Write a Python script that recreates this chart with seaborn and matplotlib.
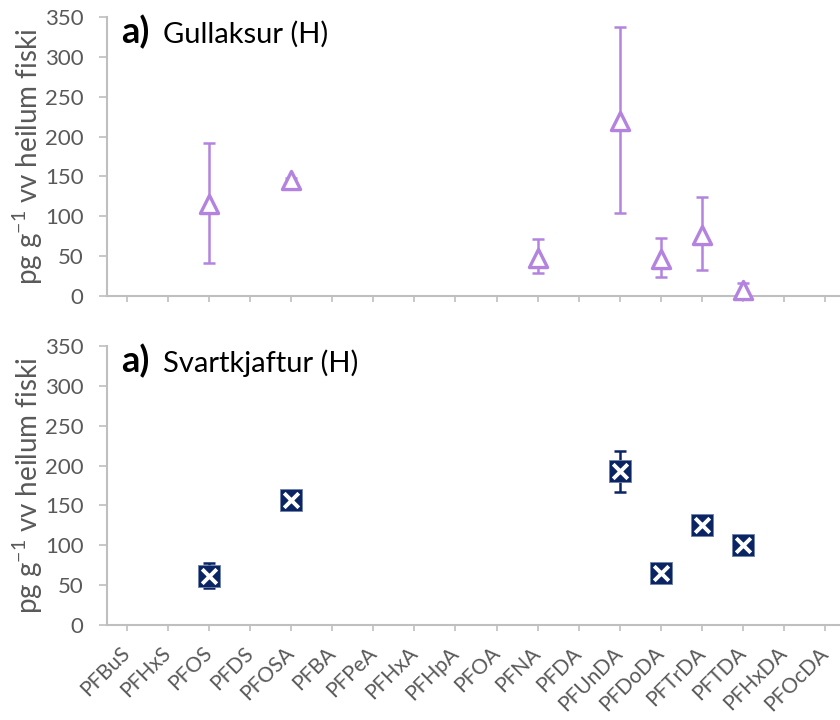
import matplotlib
matplotlib.use("Agg")
import matplotlib.pyplot as plt
import seaborn as sns
import numpy as np
import pandas as pd

categories = ["PFBuS", "PFHxS", "PFOS", "PFDS", "PFOSA", "PFBA", "PFPeA", "PFHxA",
              "PFHpA", "PFOA", "PFNA", "PFDA", "PFUnDA", "PFDoDA", "PFTrDA", "PFTDA",
              "PFHxDA", "PFOcDA"]

# Panel 1: Gullaksur (H)
top_names = ["PFOS", "PFOSA", "PFNA", "PFUnDA", "PFDoDA", "PFTrDA", "PFTDA"]
top_values = [116, 145, 48, 219, 47, 76, 8]
top_low = [42, 142, 29, 104, 24, 33, 3]
top_high = [192, 148, 72, 338, 73, 124, 16]

# Panel 2: Svartkjaftur (H)
bot_names = ["PFOS", "PFOSA", "PFUnDA", "PFDoDA", "PFTrDA", "PFTDA"]
bot_values = [62, 157, 193, 65, 126, 100]
bot_low = [46, 157, 167, 65, 126, 100]
bot_high = [78, 157, 218, 65, 126, 100]

yticks = [0, 50, 100, 150, 200, 250, 300, 350]
ylabel = "pg g$^{-1}$ vv heilum fiski"
titles = ["Gullaksur (H)", "Svartkjaftur (H)"]

sns.set_theme(style="white")
plt.rcParams["font.family"] = ["Lato", "DejaVu Sans"]
plt.rcParams["mathtext.default"] = "regular"

TXT = "#595959"
SPINE = "#BFBFBF"
PURPLE = "#B383DF"
NAVY = "#0B2463"

fig = plt.figure(figsize=(8.4, 7.2), dpi=100)
left = 106.5 / 840
width = (845.5 - 106.5) / 840
h = 279 / 720
ax1 = fig.add_axes([left, 1 - 296 / 720, width, h])
ax2 = fig.add_axes([left, 1 - 625 / 720, width, h])

def style(ax, show_labels):
    ax.set_xlim(-0.5, len(categories) - 0.5)
    ax.set_ylim(0, 350)
    ax.set_yticks(yticks)
    ax.set_yticklabels([str(v) for v in yticks], fontsize=16, color=TXT)
    ax.set_xticks(range(len(categories)))
    if show_labels:
        ax.set_xticklabels(categories, rotation=45, ha="right", va="center",
                           rotation_mode="anchor", fontsize=15, color=TXT)
    else:
        ax.set_xticklabels([])
    ax.tick_params(axis="x", direction="out", length=4, width=1.2, color=SPINE,
                   bottom=True, pad=14)
    ax.tick_params(axis="y", direction="out", length=5.5, width=1.2, color=SPINE,
                   left=True, pad=11)
    for s in ["top", "right"]:
        ax.spines[s].set_visible(False)
    for s in ["left", "bottom"]:
        ax.spines[s].set_color(SPINE)
        ax.spines[s].set_linewidth(1.5)
    ax.set_ylabel(ylabel, fontsize=20, color=TXT)
    ax.yaxis.set_label_coords((45 - 106.5) / 739, 0.5)
    ax.set_xlabel("")
    ax.grid(False)

# Top panel
dtop = pd.DataFrame({"name": top_names, "value": top_values, "low": top_low, "high": top_high})
dtop["x"] = [categories.index(n) for n in dtop["name"]]
ax1.errorbar(dtop["x"], dtop["value"],
             yerr=[dtop["value"] - dtop["low"], dtop["high"] - dtop["value"]],
             fmt="none", ecolor=PURPLE, elinewidth=1.8, capsize=4.5, capthick=1.8, zorder=2)
sns.scatterplot(data=dtop, x="x", y="value", ax=ax1, marker="^", s=170,
                facecolor="white", edgecolor=PURPLE, linewidth=2.4, zorder=3, legend=False,
                clip_on=False)
style(ax1, False)

# Bottom panel
dbot = pd.DataFrame({"name": bot_names, "value": bot_values, "low": bot_low, "high": bot_high})
dbot["x"] = [categories.index(n) for n in dbot["name"]]
ax2.errorbar(dbot["x"], dbot["value"],
             yerr=[dbot["value"] - dbot["low"], dbot["high"] - dbot["value"]],
             fmt="none", ecolor=NAVY, elinewidth=1.8, capsize=4.5, capthick=1.8, zorder=2)
sns.scatterplot(data=dbot, x="x", y="value", ax=ax2, marker="s", s=230,
                color=NAVY, edgecolor="#6F82A8", linewidth=0.6, zorder=3, legend=False)
sns.scatterplot(data=dbot, x="x", y="value", ax=ax2, marker="x", s=110,
                color="white", linewidth=2.8, zorder=4, legend=False)
style(ax2, True)

fig.text(121 / 840, 1 - 43 / 720, "a)", fontsize=26, fontweight="bold", color="black",
         va="baseline", ha="left")
fig.text(163 / 840, 1 - 43 / 720, titles[0], fontsize=21, color="black",
         va="baseline", ha="left")
fig.text(121 / 840, 1 - 372 / 720, "a)", fontsize=26, fontweight="bold", color="black",
         va="baseline", ha="left")
fig.text(163 / 840, 1 - 372 / 720, titles[1], fontsize=21, color="black",
         va="baseline", ha="left")

fig.savefig("out.png", dpi=100)
